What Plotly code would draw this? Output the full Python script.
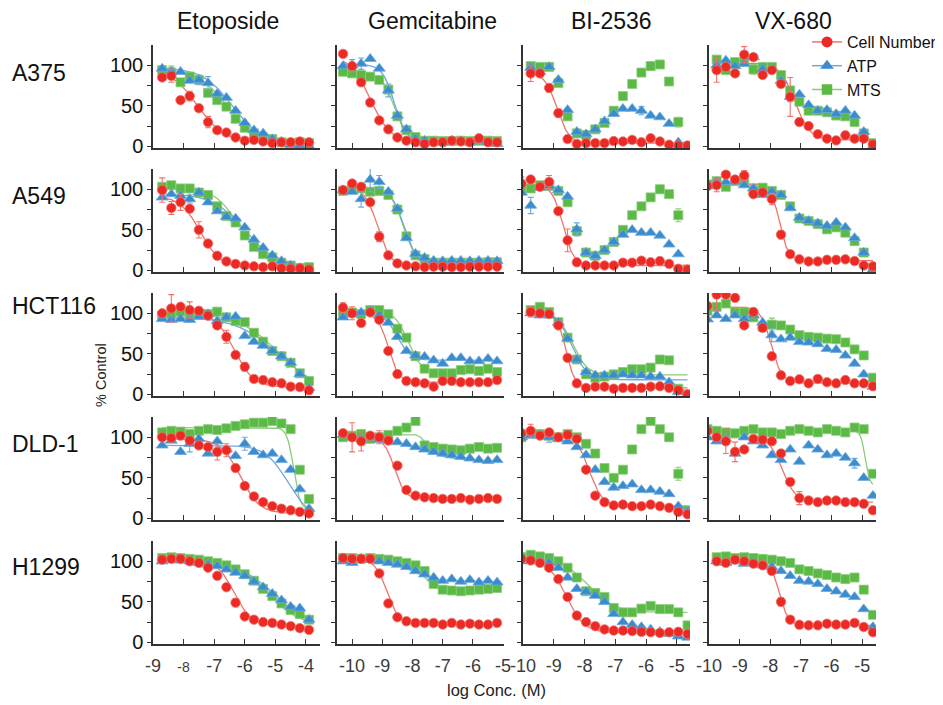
import numpy as np
import plotly.graph_objects as go

# the page draws the figure 8 px in from the top-left corner, so the figure is
# laid out in page pixels and shifted back by that offset
PAGE_W, PAGE_H, OFF = 943, 705, 8
W, H = PAGE_W - OFF, PAGE_H - OFF
FONT = "Liberation Sans, Arial, Helvetica, sans-serif"
RED, BLUE, GREEN = "#EC2A25", "#3B8CCF", "#5BB946"
RED_L, BLUE_L, GREEN_L = "#F0736B", "#6DAADD", "#8CCB7B"

DRUGS = ["Etoposide", "Gemcitabine", "BI-2536", "VX-680"]
CELL_LINES = ["A375", "A549", "HCT116", "DLD-1", "H1299"]
SERIES = ["Cell Number", "ATP", "MTS"]

# log concentrations (M) per drug
ETO_X = [-8.7, -8.4, -8.1, -7.8, -7.5, -7.2, -6.9, -6.6, -6.3, -6.0, -5.7, -5.4, -5.1, -4.8, -4.5, -4.2, -3.9]
GEM_X = [-10.3, -10.0, -9.7, -9.4, -9.1, -8.8, -8.5, -8.2, -7.9, -7.6, -7.3, -7.0, -6.7, -6.4, -6.1, -5.8, -5.5, -5.2]
BI_X = [-10.05, -9.75, -9.45, -9.15, -8.85, -8.55, -8.25, -7.95, -7.65, -7.35, -7.05, -6.75, -6.45, -6.15, -5.85, -5.55, -5.25, -4.95, -4.65]
VX_X = [-10.05, -9.75, -9.45, -9.15, -8.85, -8.55, -8.25, -7.95, -7.65, -7.35, -7.05, -6.75, -6.45, -6.15, -5.85, -5.55, -5.25, -4.95, -4.65]

# ---------------- A375 ----------------
A375_ETO_CELL = [85, 87, 57, 62, 47, 30, 20, 17, 11, 7, 8, 6, 4, 5, 5, 6, 5]
A375_ETO_ATP = [96, 92, 92, 81, 82, 78, 65, 60, 44, 29, 20, 16, 9, 6, 2, 1, 0]
A375_ETO_MTS = [94, 91, 79, 86, 82, 66, 57, 49, 34, 23, 16, 11, 9, 5, 4, 5, 4]
A375_GEM_CELL = [114, 99, 79, 54, 32, 21, 11, 7, 5, 3, 5, 5, 7, 6, 5, 10, 5, 5]
A375_GEM_ATP = [99, 100, 102, 108, 96, 69, 38, 21, 9, 7, 6, 5, 7, 6.5, 5, 6.5, 5, 3]
A375_GEM_MTS = [92, 90, 88, 86, 82, 70, 37, 20, 11.5, 7, 7, 6.5, 6.5, 7, 6.5, 7, 7, 6.5]
A375_BI_CELL = [None, 90, 90, 72, 41, 9, 3, 4, 4, 4, 6.5, 6, 8, 5, 10, 6, 2, 1, 1]
A375_BI_ATP = [None, 97, 92, 98, 82, 45, 18, 15, 21, 31, 40, 46.5, 46.5, 44, 38, 36, 28, 5, 0]
A375_BI_MTS = [None, 99, 98, 98, 78, 37, 16, 14, 21, 29, 44, 62, 77, 91, 99, 101, 80, 30, 0]
A375_VX_CELL = [None, 94, 98, 90, 113, 110, 88, 94, 77, 61, 30, 25, 15, 9.5, 7.4, 13.6, 9.5, 9.5, 2.5]
A375_VX_ATP = [None, 100, 106, 99, 102, 110, 95, 95, 81, 61, 64, 51, 44, 45, 40, 44, 38, 18, 0]
A375_VX_MTS = [None, 107, 94, 104, 104, 95, 98, 98, 88, 69, 55, 44, 44, 42, 38, 37, 30, 16, 4]

# ---------------- A549 ----------------
A549_ETO_CELL = [99, 77, 84, 76, 50, 33, 18, 11, 8, 6, 5, 4, 5, 2.5, 2, 2.5, 1]
A549_ETO_ATP = [90, 94, 92, 88, 96, 84, 73, 66, 64, 53, 38, 28, 18.5, 11.5, 6, 3, 0]
A549_ETO_MTS = [103, 105, 101, 101, 96, 93, 79, 67, 59, 43, 29, 20, 16, 9.5, 6, 3, 4]
A549_GEM_CELL = [99, 107, 103, 84, 41.5, 18.5, 8.6, 6, 5, 4, 4.5, 4.5, 4, 4, 4.5, 4.5, 4.5, 4.5]
A549_GEM_ATP = [99, 97, 88, 112, 109, 97, 76, 40, 20.5, 15.6, 12, 11.5, 12, 12, 11.5, 12, 12, 11.5]
A549_GEM_MTS = [98, 100, 101, 97, 98, 93, 75, 42, 18.5, 14, 9.5, 9.5, 9.5, 9.5, 9.5, 9.5, 10, 10]
A549_BI_CELL = [107, 112, 103, 109, 73, 37, 10, 6, 6, 6, 6, 9.5, 9.5, 12, 10, 11.5, 8, 2, 1]
A549_BI_ATP = [96, 80, 102, 104, 99, 91, 50.6, 22, 18, 25, 35, 44, 50, 46.5, 46.5, 43, 32, 20, 0]
A549_BI_MTS = [102, 101, 105, 104, 98, 84, 48.6, 22, 18, 25, 35, 50, 68, 79, 90, 100, 94, 68, 1]
A549_VX_CELL = [104, 105, 118, 112, 117, 94, 96, 88, 44, 20, 13.6, 11, 11, 13, 13, 13.6, 11.5, 6, 5]
A549_VX_ATP = [104, 109, 109, 109, 105, 101, 93, 97, 93, 77, 65, 61, 58, 55, 59, 53, 40, 22, 1]
A549_VX_MTS = [106, 110, 103, 110, 111.5, 99, 102, 98, 93, 79, 64, 61, 57, 50.6, 53, 46.5, 36, 22, 3]

# ---------------- HCT116 ----------------
HCT116_ETO_CELL = [100, 106, 108, 104, 103, 97, 85, 71, 48.6, 34, 19, 17.7, 15, 13.6, 9.5, 9, 5]
HCT116_ETO_ATP = [93, 92, 93, 92, 96, 99, 90.5, 95, 96, 72, 65, 60, 53.5, 47, 39, 25, 8]
HCT116_ETO_MTS = [97, 99, 102, 97, 98, 99, 102, 95, 90.5, 89, 76, 65, 53.5, 47, 39, 26, 16.5]
HCT116_GEM_CELL = [107, 100, 88, 101, 92, 53.5, 25, 16.5, 15, 13.6, 9.5, 16.5, 16.5, 15, 15, 15, 15, 17.7]
HCT116_GEM_ATP = [95, 99, 101, 103, 97.5, 88.5, 71, 53.5, 48, 46.5, 42, 38, 45, 45, 41, 41, 44, 41]
HCT116_GEM_MTS = [99, 101, 99, 104, 104, 99, 81, 70, 47, 31.7, 26, 26, 26, 30, 31, 29, 31.7, 27.6]
HCT116_BI_CELL = [None, 101.6, 100, 99, 85, 45, 13.6, 8, 9.5, 9.5, 7, 8, 8, 8, 9.5, 10, 8, 5, 0]
HCT116_BI_ATP = [None, 100, 97.5, 97.5, 88.5, 68.7, 43, 27.6, 23.5, 23.5, 23.5, 24.7, 23.5, 23.5, 22, 22, 15, 3, 0]
HCT116_BI_MTS = [None, 104, 108, 101.6, 89, 70, 43, 24.7, 20.6, 22, 24.7, 27.6, 31, 31, 33, 43, 42, 7, 0]
HCT116_VX_CELL = [109, 123, 123, 119, 85, 101.6, 82, 47, 23.5, 16.5, 18.5, 13.6, 19, 15, 13.6, 17.7, 13.6, 13.6, 10]
HCT116_VX_ATP = [92.6, 97.5, 93, 97.5, 93, 97.5, 88.5, 73, 68, 70, 64.6, 64, 62, 56, 55, 48, 38, 24.7, 9.5]
HCT116_VX_MTS = [103, 108, 112, 101, 101, 95, 83.5, 86, 85, 80, 73, 71, 70, 68.7, 68, 64, 55.5, 48, 20.6]

# ---------------- DLD-1 ----------------
DLD1_ETO_CELL = [100, 99, 102, 96, 90, 88, 82, 84, 62, 40, 27, 20, 15, 12, 10, 8, 6]
DLD1_ETO_ATP = [90, 96, 82, 92, 98, 80, 95, 85, 77, 92, 82, 78, 80, 72, 60, 36, 12]
DLD1_ETO_MTS = [106, 108, 107, 104, 108, 110, 109, 111, 114, 116, 118, 118, 120, 117, 110, 60, 24]
DLD1_GEM_CELL = [105, 100, 95, 102, 100, 96, 65, 35, 28, 26, 25, 24, 24, 25, 23, 24, 25, 24]
DLD1_GEM_ATP = [103, 100, 98, 100, 97, 96, 94, 92, 88, 85, 82, 80, 78, 76, 74, 72, 71, 72]
DLD1_GEM_MTS = [100, 102, 104, 98, 100, 103, 108, 112, 120, 90, 88, 86, 85, 84, 86, 88, 86, 87]
DLD1_BI_CELL = [105, 108, 102, 106, 100, 103, 98, 60, 28, 20, 16, 17, 15, 15, 17, 15, 13, 8, 5]
DLD1_BI_ATP = [100, 102, 103, 100, 98, 95, 88, 78, 60, 45, 38, 40, 42, 35, 35, 33, 30, 15, 8]
DLD1_BI_MTS = [100, 105, 104, 102, 100, 104, 100, 92, 80, 62, 50, 60, 85, 110, 120, 110, 100, 55, 10]
DLD1_VX_CELL = [108, 100, 95, 82, 85, 98, 97, 95, 80, 45, 25, 22, 20, 22, 22, 20, 20, 18, 10]
DLD1_VX_ATP = [100, 95, 98, 80, 100, 95, 90, 78, 72, 85, 70, 90, 85, 78, 80, 75, 68, 50, 28]
DLD1_VX_MTS = [110, 108, 106, 105, 108, 110, 106, 106, 104, 108, 110, 108, 106, 110, 108, 106, 112, 110, 55]

# ---------------- H1299 ----------------
H1299_ETO_CELL = [102, 103, 103, 100, 98, 92, 82, 68, 49, 32, 28, 25, 24, 22, 20, 17.5, 15.4]
H1299_ETO_ATP = [100, 102, 101, 100, 98, 96, 94, 90, 86, 82, 75, 68, 60, 52, 44, 42, 28]
H1299_ETO_MTS = [104, 105, 104, 103, 102, 100, 98, 95, 90, 84, 76, 66, 57, 48, 40, 35, 28]
H1299_GEM_CELL = [104, 103, 103, 103, 85, 48, 31, 26, 24, 24, 24, 22, 24, 22, 23, 22, 22, 24]
H1299_GEM_ATP = [100, 98, 103, 102, 100, 98, 96, 93, 88, 84, 80, 76, 78, 75, 77, 74, 76, 74]
H1299_GEM_MTS = [104, 104, 103, 104, 103, 102, 100, 98, 95, 88, 72, 65, 64, 63, 64, 65, 66, 67]
H1299_BI_CELL = [103, 101, 98, 92, 78, 56, 33, 25, 20, 16, 14.6, 14.6, 14, 13, 12.5, 11.7, 12.5, 13, 10.4]
H1299_BI_ATP = [100, 102, 100, 98, 92, 80, 66, 62.5, 57.5, 50, 35, 25, 21.7, 19, 16, 13, 10.4, 7.5, 6]
H1299_BI_MTS = [105, 108, 106, 104, 100, 92, 80, 63, 61, 56, 42.5, 37, 37, 41.6, 45, 41, 41, 37, 21]
H1299_VX_CELL = [None, 100, 98, 102, 100, 97, 95, 88, 50, 28, 21.7, 21, 21, 23, 22, 22, 24, 19, 12.5]
H1299_VX_ATP = [None, 100, 98, 100, 97, 98, 95, 93, 88, 82, 76, 75, 72, 66, 63, 59, 56, 41, 19]
H1299_VX_MTS = [None, 105, 106, 104, 105, 104, 103, 102, 100, 98, 90, 88, 85, 83, 80, 78, 80, 65, 34]

# fitted 4-parameter logistic curves: (top, bottom, logEC50, hill) per series [cell, atp, mts]
FIT_A375_ETO = [(96, 5, -7.55, 1.0), (97, 2, -6.4, 0.9), (94, 4, -6.55, 0.9)]
FIT_A375_GEM = [(112, 5, -9.4, 1.3), (101, 6, -8.6, 2.2), (89, 6.5, -8.6, 2.2)]
FIT_A375_BI = [(91, 4, -8.9, 2.2), None, None]
FIT_A375_VX = [(103, 8, -7.2, 1.8), None, None]
FIT_A549_ETO = [(92, 3, -7.45, 1.3), (95, 0, -5.95, 0.8), (104, 2, -6.15, 1.0)]
FIT_A549_GEM = [(103, 4.5, -9.15, 2.0), (100, 11.5, -8.3, 2.2), (99, 9.5, -8.3, 2.2)]
FIT_A549_BI = [(105, 6, -8.7, 2.5), None, None]
FIT_A549_VX = [(107, 12, -7.7, 3.0), None, None]
FIT_HCT116_ETO = [(101, 9, -6.35, 1.4), (96, 0, -4.85, 0.6), (100, 0, -4.85, 0.65)]
FIT_HCT116_GEM = [(100, 15, -8.8, 2.5), (100, 42, -8.5, 2.0), (103, 27, -8.15, 2.0)]
FIT_HCT116_BI = [(100, 8, -8.6, 3.0), (100, 18, -8.4, 1.8), (102, 24, -8.4, 1.8)]
FIT_HCT116_VX = [(108, 14, -7.97, 2.5), None, None]
FIT_DLD1_ETO = [(98, 6, -6.15, 1.4), (90, 0, -4.6, 1.2), (112, 10, -4.4, 4.0)]
FIT_DLD1_GEM = [(100, 24, -8.6, 2.5), (100, 70, -7.8, 0.7), (104, 86, -7.6, 4.0)]
FIT_DLD1_BI = [(104, 15, -7.85, 2.0), None, None]
FIT_DLD1_VX = [(100, 20, -7.6, 2.0), None, (108, 40, -4.9, 6.0)]
FIT_H1299_ETO = [(103, 20, -6.35, 1.5), (101, 15, -5.0, 0.7), (104, 20, -5.3, 0.8)]
FIT_H1299_GEM = [(103, 23, -8.85, 2.2), (101, 75, -8.0, 1.2), (103, 64, -7.7, 1.8)]
FIT_H1299_BI = [(102, 12, -8.6, 1.5), None, (105, 37, -7.9, 1.0)]
FIT_H1299_VX = [(100, 21, -7.7, 3.0), None, None]

# sparse error bars: (row, col, series, point index, half-width)
ERRORS = [
    (0, 0, 0, 1, 8), (0, 0, 0, 3, 6), (0, 0, 0, 5, 7), (0, 0, 1, 1, 5), (0, 0, 1, 4, 6), (0, 0, 1, 5, 8), (0, 0, 2, 1, 8),
    (0, 1, 1, 1, 7), (0, 1, 1, 2, 7), (0, 1, 1, 5, 8), (0, 1, 0, 12, 3), (0, 1, 0, 15, 3),
    (0, 2, 0, 1, 10), (0, 2, 0, 3, 5), (0, 2, 0, 4, 5), (0, 2, 2, 14, 5), (0, 2, 2, 17, 6), (0, 2, 1, 13, 5),
    (0, 3, 0, 1, 15), (0, 3, 0, 4, 10), (0, 3, 0, 9, 24), (0, 3, 1, 9, 6), (0, 3, 2, 5, 6),
    (1, 0, 0, 0, 15), (1, 0, 0, 1, 8), (1, 0, 0, 2, 10), (1, 0, 0, 4, 10), (1, 0, 1, 3, 5),
    (1, 1, 1, 2, 10), (1, 1, 1, 3, 15), (1, 1, 1, 4, 8), (1, 1, 0, 4, 6),
    (1, 2, 0, 0, 8), (1, 2, 0, 3, 8), (1, 2, 0, 5, 14), (1, 2, 1, 1, 10), (1, 2, 1, 6, 8), (1, 2, 2, 17, 8), (1, 2, 2, 15, 5),
    (1, 3, 0, 1, 8), (1, 3, 0, 4, 6), (1, 3, 0, 7, 7), (1, 3, 0, 8, 5),
    (2, 0, 0, 1, 17), (2, 0, 0, 3, 10), (2, 0, 0, 7, 8), (2, 0, 0, 9, 5),
    (2, 1, 0, 0, 6), (2, 1, 0, 1, 8),
    (2, 2, 0, 1, 6), (2, 2, 0, 3, 4),
    (2, 3, 0, 1, 20), (2, 3, 1, 7, 8), (2, 3, 2, 7, 8),
    (3, 0, 0, 6, 10), (3, 0, 0, 7, 8), (3, 0, 1, 3, 10), (3, 0, 1, 9, 8),
    (3, 1, 0, 1, 18), (3, 1, 0, 2, 12), (3, 1, 0, 4, 8),
    (3, 2, 0, 1, 8), (3, 2, 1, 3, 6), (3, 2, 2, 17, 8),
    (3, 3, 0, 2, 15), (3, 3, 0, 3, 12), (3, 3, 0, 10, 8), (3, 3, 1, 16, 6),
    (4, 0, 0, 8, 5), (4, 1, 0, 5, 3), (4, 3, 0, 8, 5),
]

X_BY_DRUG = [ETO_X, GEM_X, BI_X, VX_X]
DATA = {
    (0, 0): (A375_ETO_CELL, A375_ETO_ATP, A375_ETO_MTS), (0, 1): (A375_GEM_CELL, A375_GEM_ATP, A375_GEM_MTS),
    (0, 2): (A375_BI_CELL, A375_BI_ATP, A375_BI_MTS), (0, 3): (A375_VX_CELL, A375_VX_ATP, A375_VX_MTS),
    (1, 0): (A549_ETO_CELL, A549_ETO_ATP, A549_ETO_MTS), (1, 1): (A549_GEM_CELL, A549_GEM_ATP, A549_GEM_MTS),
    (1, 2): (A549_BI_CELL, A549_BI_ATP, A549_BI_MTS), (1, 3): (A549_VX_CELL, A549_VX_ATP, A549_VX_MTS),
    (2, 0): (HCT116_ETO_CELL, HCT116_ETO_ATP, HCT116_ETO_MTS), (2, 1): (HCT116_GEM_CELL, HCT116_GEM_ATP, HCT116_GEM_MTS),
    (2, 2): (HCT116_BI_CELL, HCT116_BI_ATP, HCT116_BI_MTS), (2, 3): (HCT116_VX_CELL, HCT116_VX_ATP, HCT116_VX_MTS),
    (3, 0): (DLD1_ETO_CELL, DLD1_ETO_ATP, DLD1_ETO_MTS), (3, 1): (DLD1_GEM_CELL, DLD1_GEM_ATP, DLD1_GEM_MTS),
    (3, 2): (DLD1_BI_CELL, DLD1_BI_ATP, DLD1_BI_MTS), (3, 3): (DLD1_VX_CELL, DLD1_VX_ATP, DLD1_VX_MTS),
    (4, 0): (H1299_ETO_CELL, H1299_ETO_ATP, H1299_ETO_MTS), (4, 1): (H1299_GEM_CELL, H1299_GEM_ATP, H1299_GEM_MTS),
    (4, 2): (H1299_BI_CELL, H1299_BI_ATP, H1299_BI_MTS), (4, 3): (H1299_VX_CELL, H1299_VX_ATP, H1299_VX_MTS),
}
FITS = {
    (0, 0): FIT_A375_ETO, (0, 1): FIT_A375_GEM, (0, 2): FIT_A375_BI, (0, 3): FIT_A375_VX,
    (1, 0): FIT_A549_ETO, (1, 1): FIT_A549_GEM, (1, 2): FIT_A549_BI, (1, 3): FIT_A549_VX,
    (2, 0): FIT_HCT116_ETO, (2, 1): FIT_HCT116_GEM, (2, 2): FIT_HCT116_BI, (2, 3): FIT_HCT116_VX,
    (3, 0): FIT_DLD1_ETO, (3, 1): FIT_DLD1_GEM, (3, 2): FIT_DLD1_BI, (3, 3): FIT_DLD1_VX,
    (4, 0): FIT_H1299_ETO, (4, 1): FIT_H1299_GEM, (4, 2): FIT_H1299_BI, (4, 3): FIT_H1299_VX,
}

COLORS = [RED, BLUE, GREEN]
LIGHT = [RED_L, BLUE_L, GREEN_L]
SYMBOLS = ["circle", "triangle-up", "square"]
SIZES = [9.5, 10.5, 9]

# layout geometry (page pixels)
COL_PX = [(153, 320), (337, 504), (523, 690), (709, 876)]
ROW_PX = [(45, 148), (169, 272), (293, 396), (417, 520), (541, 644)]
X_RANGES = [(-9, -3.54), (-10.5, -4.97), (-10, -4.57), (-10, -4.55)]
Y_RANGE = (-2, 125)
X_TICKS = [[-9, -8, -7, -6, -5, -4], [-10, -9, -8, -7, -6, -5], [-10, -9, -8, -7, -6, -5], [-10, -9, -8, -7, -6, -5]]


def px(x):
    return (x - OFF) / W


def py(y):
    return 1 - (y - OFF) / H


def logistic(x, p):
    top, bottom, ec50, hill = p
    return bottom + (top - bottom) / (1 + 10 ** ((x - ec50) * hill))


fig = go.Figure()
layout = {}

for r in range(5):
    for c in range(4):
        k = r * 4 + c + 1
        xa = "x" if k == 1 else f"x{k}"
        ya = "y" if k == 1 else f"y{k}"
        xs = X_BY_DRUG[c]
        series = DATA[(r, c)]
        fits = FITS[(r, c)]
        # fitted curves
        for s in (2, 1, 0):
            p = fits[s]
            if p is None:
                continue
            valid = [x for x, v in zip(xs, series[s]) if v is not None]
            gx = np.linspace(min(valid), max(valid), 200)
            fig.add_trace(go.Scatter(x=gx, y=logistic(gx, p), mode="lines", xaxis=xa, yaxis=ya,
                                     line=dict(color=LIGHT[s], width=1.3), showlegend=False, hoverinfo="skip"))
        # data points
        for s in (2, 1, 0):
            vals = series[s]
            err = [0] * len(vals)
            for (er, ec, es, ei, ev) in ERRORS:
                if er == r and ec == c and es == s and ei < len(vals):
                    err[ei] = ev
            fig.add_trace(go.Scatter(
                x=xs, y=vals, mode="markers", xaxis=xa, yaxis=ya, showlegend=False,
                marker=dict(symbol=SYMBOLS[s], size=SIZES[s], color=COLORS[s],
                            line=dict(color=LIGHT[s], width=0.8)),
                error_y=dict(type="data", array=err, visible=True, color=LIGHT[s], thickness=1.1, width=3),
            ))
        x0, x1 = COL_PX[c]
        y0, y1 = ROW_PX[r]
        bottom = r == 4
        if c == 0:
            ticktext = ["-9", "<span style='font-size:14px'>-8</span>", "-7", "-6", "-5", "-4"]
        else:
            ticktext = [str(t) for t in X_TICKS[c]]
        layout["xaxis" if k == 1 else f"xaxis{k}"] = dict(
            domain=[px(x0), px(x1)], range=list(X_RANGES[c]), anchor=ya, automargin=False,
            showline=True, linecolor="#333333", linewidth=1.5, showgrid=False, zeroline=False,
            ticks="inside", ticklen=5, tickwidth=1.3, tickcolor="#333333",
            tickvals=X_TICKS[c], ticktext=ticktext, showticklabels=bottom, ticklabelstandoff=5,
            tickfont=dict(family=FONT, size=18, color="#3c3c3c"),
        )
        layout["yaxis" if k == 1 else f"yaxis{k}"] = dict(
            domain=[py(y1), py(y0)], range=list(Y_RANGE), anchor=xa, automargin=False,
            showline=True, linecolor="#333333", linewidth=1.5, showgrid=False, zeroline=False,
            ticks="outside", ticklen=4, tickwidth=1.3, tickcolor="#333333",
            tickvals=[0, 25, 50, 75, 100], ticktext=["0", "", "50", "", "100"],
            showticklabels=(c == 0), tickfont=dict(family=FONT, size=20, color="#111111"),
        )

# legend entries
for s in range(3):
    fig.add_trace(go.Scatter(x=[None], y=[None], mode="lines+markers", name=SERIES[s],
                             marker=dict(symbol=SYMBOLS[s], size=SIZES[s] + 1.5, color=COLORS[s]),
                             line=dict(color=LIGHT[s], width=1.5)))

annotations = []
TITLE_X = [228, 432, 611, 793]
for c, d in enumerate(DRUGS):
    annotations.append(dict(text=d, x=px(TITLE_X[c]), y=py(21), xref="paper", yref="paper",
                            showarrow=False, xanchor="center", yanchor="middle",
                            font=dict(family=FONT, size=23, color="#111111")))
ROW_LABEL_Y = [73, 196, 306, 444, 567]
for r, name in enumerate(CELL_LINES):
    annotations.append(dict(text=name, x=px(10), y=py(ROW_LABEL_Y[r]), xref="paper", yref="paper",
                            showarrow=False, xanchor="left", yanchor="middle",
                            font=dict(family=FONT, size=23, color="#111111")))
annotations.append(dict(text="% Control", x=px(101), y=py(375), xref="paper", yref="paper", showarrow=False,
                        textangle=-90, xanchor="center", yanchor="middle",
                        font=dict(family=FONT, size=14.5, color="#222222")))
annotations.append(dict(text="log Conc. (M)", x=px(496), y=py(690), xref="paper", yref="paper", showarrow=False,
                        xanchor="center", yanchor="middle", font=dict(family=FONT, size=16.5, color="#222222")))

fig.update_layout(
    width=W, height=H, margin=dict(l=0, r=0, t=0, b=0, autoexpand=False),
    paper_bgcolor="white", plot_bgcolor="white",
    annotations=annotations,
    legend=dict(x=px(807), y=py(25), xanchor="left", yanchor="top", bgcolor="rgba(0,0,0,0)",
                font=dict(family=FONT, size=16, color="#111111"), tracegroupgap=0, itemwidth=30),
    **layout,
)

fig.write_html("out.html")
